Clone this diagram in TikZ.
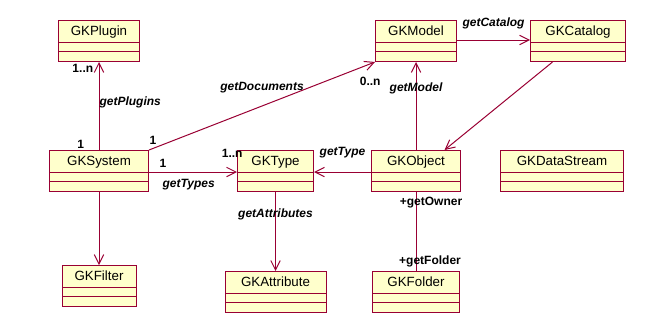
\documentclass[tikz,border=0pt]{standalone}
\usepackage{fontspec}
\setmainfont{Liberation Sans}
\usetikzlibrary{positioning,arrows.meta}
\definecolor{umlline}{RGB}{153,0,51}
\definecolor{umlfill}{RGB}{255,255,204}
\tikzset{
  cls/.style  ={rectangle, draw=umlline, fill=umlfill, line width=0.75pt, inner sep=0pt,
                font=\fontsize{10}{12}\selectfont, text height=11.6pt, text depth=19.15pt,
                path picture={\draw[umlline, line width=0.75pt]
                  ([yshift=-16.5pt]path picture bounding box.north west) -- ([yshift=-16.5pt]path picture bounding box.north east)
                  ([yshift=-23.25pt]path picture bounding box.north west) -- ([yshift=-23.25pt]path picture bounding box.north east);}},
  assoc/.style={-{Straight Barb[length=7pt,width=7pt]}, line width=0.75pt, draw=umlline},
  link/.style ={line width=0.75pt, draw=umlline},
  role/.style ={font=\fontsize{9}{11}\selectfont\bfseries\itshape, inner sep=0pt},
  mult/.style ={font=\fontsize{9}{11}\selectfont\bfseries, inner sep=0pt},
}

\begin{document}
\begin{tikzpicture}[x=0.75pt, y=-0.75pt, node distance=66pt]
\useasboundingbox (0,0) rectangle (659,325);
% classes
\node[cls, minimum width=74.25pt, anchor=north west] (sys) at (49,150) {GKSystem};
\node[cls, minimum width=60.75pt, above=66pt of sys] (plug) {GKPlugin};
\node[cls, minimum width=55.5pt, below=54.75pt of sys] (filt) {GKFilter};
\node[cls, minimum width=57pt, right=66pt of sys] (type) {GKType};
\node[cls, minimum width=66.75pt, right=42.75pt of type] (obj) {GKObject};
\node[cls, minimum width=92.25pt, right=29.25pt of obj] (ds) {GKDataStream};
\node[cls, minimum width=60.75pt, above=66pt of obj] (model) {GKModel};
\node[cls, minimum width=71.25pt, right=54.75pt of model] (cat) {GKCatalog};
\node[cls, minimum width=75.75pt, below=59.25pt of type] (attr) {GKAttribute};
\node[cls, minimum width=65.25pt, below=59.25pt of obj] (fold) {GKFolder};
% associations
\draw[assoc] (sys) -- (plug)
  node[role, midway, right, yshift=3pt] {getPlugins}
  node[mult, pos=0, anchor=south east, xshift=-10.9pt, yshift=0.5pt] {1}
  node[mult, pos=1, anchor=north east, xshift=-4pt, yshift=-1.5pt] {1..n};
\draw[assoc] (sys.north east) -- (model.south west)
  node[role, midway, yshift=13.9pt] {getDocuments}
  node[mult, pos=0, anchor=south west, yshift=3.75pt] {1}
  node[mult, pos=1, anchor=north east, xshift=4.5pt, yshift=-11.25pt] {0..n};
\draw[assoc] ([yshift=-16.5pt]sys.north east) -- ([yshift=-16.5pt]type.north west)
  node[mult, pos=0, anchor=south west, xshift=7.5pt, yshift=3pt] {1}
  node[role, pos=0, anchor=north west, xshift=9.75pt, yshift=-5.25pt] {getTypes}
  node[mult, pos=1, anchor=south east, xshift=4.5pt, yshift=10.5pt] {1..n};
\draw[assoc] ([yshift=-16.5pt]obj.north west) -- ([yshift=-16.5pt]type.north east)
  node[role, midway, yshift=14.25pt] {getType};
\draw[assoc] (obj) -- (model) node[role, pos=0.7] {getModel};
\draw[assoc] ([yshift=-15pt]model.north east) -- ([yshift=-15pt]cat.north west)
  node[role, midway, yshift=12.4pt] {getCatalog};
\draw[assoc] ([xshift=-19.1pt]cat.south) -- ([xshift=21.4pt]obj.north);
\draw[assoc] (sys) -- (filt);
\draw[assoc] (type) -- (type.south |- attr.north) node[role, pos=0.28] {getAttributes};
\draw[link] (obj) -- (fold)
  node[mult, pos=0, anchor=north, xshift=11.25pt, yshift=-3.75pt] {+getOwner}
  node[mult, pos=1, anchor=south, xshift=10.5pt, yshift=2.25pt] {+getFolder};
\end{tikzpicture}
\end{document}
